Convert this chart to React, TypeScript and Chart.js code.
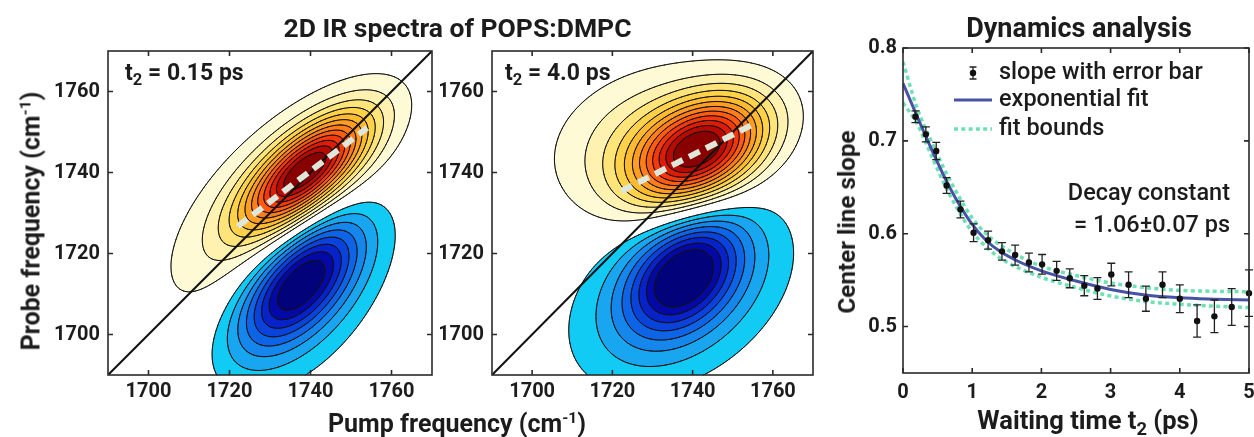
import React, { useEffect, useRef } from "react";
import { Chart, registerables } from "chart.js";

Chart.register(...registerables);

const FONT = "Roboto, 'Noto Sans', 'DejaVu Sans', sans-serif";
const INK = "#1c1c1c";

// ---------------- 2D IR spectra ----------------
const freqRange = [1690, 1770];
const freqTicks = [1700, 1720, 1740, 1760];
const diagonalLine = [1690, 1770];

// contour levels of the normalised 2D IR signal
const contourLevelsPos = [0.08, 0.16, 0.24, 0.32, 0.4, 0.48, 0.56, 0.64, 0.72, 0.8, 0.88, 0.96];
const contourLevelsNeg = [-0.08, -0.16, -0.24, -0.32, -0.4, -0.48, -0.56, -0.64];

// t2 = 0.15 ps : [bleach core (+), excited-state core (-), bleach wing (+), excited-state wing (-)]
const pump015 = [1739, 1737.5, 1732, 1738];
const probe015 = [1740.5, 1713, 1731, 1712];
const amp015 = [0.92, -0.62, 0.22, -0.2];
const diagWidth015 = [13, 13, 24, 20];
const antiWidth015 = [5.5, 6.5, 11.5, 11.5];
const tilt015 = [41, 48, 45, 55];
const centerPump015 = [1722, 1754];
const centerProbe015 = [1726.7, 1751];

// t2 = 4.0 ps
const pump40 = [1742, 1738, 1731, 1737];
const probe40 = [1745.5, 1715, 1747, 1710];
const amp40 = [0.9, -0.58, 0.25, -0.25];
const diagWidth40 = [12, 11, 17, 20];
const antiWidth40 = [7.5, 7.5, 12, 13];
const tilt40 = [30, 45, 15, 35];
const centerPump40 = [1722.2, 1755.5];
const centerProbe40 = [1735.4, 1752.1];

// ---------------- Dynamics ----------------
const timeRange = [0, 5];
const timeTicks = [0, 1, 2, 3, 4, 5];
const slopeRange = [0.45, 0.8];
const slopeTicks = [0.5, 0.6, 0.7, 0.8];

const waitTimes = [0.18, 0.33, 0.48, 0.63, 0.83, 1.02, 1.23, 1.43, 1.62, 1.82, 2.01, 2.22, 2.41, 2.62, 2.81, 3.01, 3.26, 3.51, 3.75, 4.0, 4.25, 4.5, 4.75, 5.0];
const slopes = [0.726, 0.707, 0.689, 0.652, 0.626, 0.601, 0.593, 0.581, 0.577, 0.569, 0.567, 0.56, 0.552, 0.544, 0.541, 0.556, 0.545, 0.53, 0.545, 0.53, 0.506, 0.511, 0.521, 0.536];
const slopeErrors = [0.0063, 0.008, 0.0093, 0.0085, 0.009, 0.0095, 0.0097, 0.0095, 0.0108, 0.01, 0.0106, 0.0102, 0.0102, 0.0108, 0.0117, 0.0122, 0.0138, 0.0135, 0.0138, 0.015, 0.0174, 0.0176, 0.0198, 0.025];

const fitTimes = [0, 0.2, 0.4, 0.6, 0.8, 1.0, 1.2, 1.4, 1.7, 2.0, 2.5, 3.0, 3.5, 4.0, 4.5, 5.0];
const fitValues = [0.762, 0.727, 0.693, 0.661, 0.633, 0.61, 0.593, 0.581, 0.569, 0.56, 0.549, 0.54, 0.534, 0.531, 0.5295, 0.5285];
const fitUpper = [0.785, 0.736, 0.701, 0.669, 0.641, 0.617, 0.6, 0.588, 0.575, 0.565, 0.555, 0.547, 0.542, 0.539, 0.538, 0.5375];
const fitLower = [0.741, 0.719, 0.686, 0.653, 0.625, 0.602, 0.586, 0.574, 0.562, 0.553, 0.542, 0.533, 0.527, 0.524, 0.522, 0.5205];

// ---------------- styles ----------------
const posColors = ["#fffad6", "#fff2b0", "#ffe47a", "#ffd24a", "#ffbb30", "#ff9c22", "#ff7d1a", "#ff5c12", "#f5380c", "#dc1c06", "#b80a02", "#880000"];
const negColors = ["#12cbf4", "#18a6f1", "#1486ec", "#0e64e6", "#0a42dc", "#0622c8", "#0408a6", "#02027a"];

function hexRgb(h: string) {
  return [parseInt(h.slice(1, 3), 16), parseInt(h.slice(3, 5), 16), parseInt(h.slice(5, 7), 16)];
}

function makePeaks(pump: number[], probe: number[], amp: number[], dw: number[], aw: number[], tilt: number[]) {
  return pump.map((_, k) => ({
    x0: pump[k], y0: probe[k], amp: amp[k], sa: dw[k], sc: aw[k],
    c: Math.cos((tilt[k] * Math.PI) / 180), s: Math.sin((tilt[k] * Math.PI) / 180),
  }));
}

function evalField(peaks: any[], x: number, y: number) {
  let f = 0;
  for (const p of peaks) {
    const dx = x - p.x0, dy = y - p.y0;
    const u = dx * p.c + dy * p.s;
    const v = -dx * p.s + dy * p.c;
    f += p.amp * Math.exp(-0.5 * ((u * u) / (p.sa * p.sa) + (v * v) / (p.sc * p.sc)));
  }
  return f;
}

const contourPlugin = {
  id: "contour",
  beforeDatasetsDraw(chart: any, _a: any, opts: any) {
    const { ctx, chartArea: ca, scales } = chart;
    const xs = scales.x, ys = scales.y;
    const L0 = Math.round(ca.left), T0 = Math.round(ca.top);
    const W = Math.round(ca.right) - L0, H = Math.round(ca.bottom) - T0;
    const stride = W + 1;
    const F = new Float32Array((W + 1) * (H + 1));
    const peaks = opts.peaks;
    for (let j = 0; j <= H; j++) {
      const py = ys.getValueForPixel(T0 + j);
      for (let i = 0; i <= W; i++) {
        const px = xs.getValueForPixel(L0 + i);
        F[j * stride + i] = evalField(peaks, px, py);
      }
    }
    const pc = posColors.map(hexRgb), nc = negColors.map(hexRgb);
    const off = document.createElement("canvas");
    off.width = W; off.height = H;
    const octx = off.getContext("2d")!;
    const img = octx.createImageData(W, H);
    for (let j = 0; j < H; j++) {
      for (let i = 0; i < W; i++) {
        const v = (F[j * stride + i] + F[j * stride + i + 1] + F[(j + 1) * stride + i] + F[(j + 1) * stride + i + 1]) / 4;
        let col = [255, 255, 255];
        if (v >= contourLevelsPos[0]) {
          let k = 0;
          while (k + 1 < contourLevelsPos.length && v >= contourLevelsPos[k + 1]) k++;
          col = pc[k];
        } else if (v <= contourLevelsNeg[0]) {
          let k = 0;
          while (k + 1 < contourLevelsNeg.length && v <= contourLevelsNeg[k + 1]) k++;
          col = nc[k];
        }
        const o = (j * W + i) * 4;
        img.data[o] = col[0]; img.data[o + 1] = col[1]; img.data[o + 2] = col[2]; img.data[o + 3] = 255;
      }
    }
    octx.putImageData(img, 0, 0);
    ctx.save();
    ctx.drawImage(off, L0, T0);
    // contour lines (marching squares)
    const step = 2;
    ctx.beginPath();
    const seg = (p: number[], q: number[]) => {
      ctx.moveTo(L0 + p[0], T0 + p[1]);
      ctx.lineTo(L0 + q[0], T0 + q[1]);
    };
    const levels = [...contourLevelsNeg, ...contourLevelsPos];
    for (const L of levels) {
      for (let j = 0; j + step <= H; j += step) {
        for (let i = 0; i + step <= W; i += step) {
          const a = F[j * stride + i], b = F[j * stride + i + step];
          const c = F[(j + step) * stride + i + step], d = F[(j + step) * stride + i];
          const ia = a > L, ib = b > L, ic = c > L, id = d > L;
          if (ia === ib && ib === ic && ic === id) continue;
          const e: any[] = [null, null, null, null];
          if (ia !== ib) e[0] = [i + (step * (L - a)) / (b - a), j];
          if (ib !== ic) e[1] = [i + step, j + (step * (L - b)) / (c - b)];
          if (id !== ic) e[2] = [i + (step * (L - d)) / (c - d), j + step];
          if (ia !== id) e[3] = [i, j + (step * (L - a)) / (d - a)];
          const pr = e.filter(Boolean);
          if (pr.length === 2) seg(pr[0], pr[1]);
          else if (pr.length === 4) {
            const center = (a + b + c + d) / 4 > L;
            if (center === ia) { seg(e[0], e[1]); seg(e[2], e[3]); }
            else { seg(e[0], e[3]); seg(e[1], e[2]); }
          }
        }
      }
    }
    ctx.strokeStyle = "#111";
    ctx.lineWidth = 1;
    ctx.lineCap = "round";
    ctx.stroke();
    ctx.restore();
  },
};

const framePlugin = {
  id: "frame",
  afterDraw(chart: any) {
    const { ctx, chartArea: ca, scales } = chart;
    const xs = scales.x, ys = scales.y;
    ctx.save();
    ctx.strokeStyle = "#2a2a2a";
    ctx.lineWidth = 1.6;
    ctx.strokeRect(ca.left, ca.top, ca.right - ca.left, ca.bottom - ca.top);
    ctx.beginPath();
    const len = 5;
    xs.ticks.forEach((t: any) => {
      const p = xs.getPixelForValue(t.value);
      ctx.moveTo(p, ca.bottom); ctx.lineTo(p, ca.bottom - len);
      ctx.moveTo(p, ca.top); ctx.lineTo(p, ca.top + len);
    });
    ys.ticks.forEach((t: any) => {
      const p = ys.getPixelForValue(t.value);
      ctx.moveTo(ca.left, p); ctx.lineTo(ca.left + len, p);
      ctx.moveTo(ca.right, p); ctx.lineTo(ca.right - len, p);
    });
    ctx.stroke();
    ctx.restore();
  },
};

const tickFont = { family: FONT, size: 20, weight: "bold" as const };

function spectrumConfig(peaks: any[], clPump: number[], clProbe: number[], yWidth: number, padRight: number): any {
  return {
    type: "scatter",
    data: {
      datasets: [
        {
          data: clPump.map((p, i) => ({ x: p, y: clProbe[i] })),
          showLine: true, borderColor: "#dfe7da", borderWidth: 6, borderDash: [12, 7],
          pointRadius: 0, order: 1,
        },
        {
          data: diagonalLine.map((v) => ({ x: v, y: v })),
          showLine: true, borderColor: "#111", borderWidth: 2, pointRadius: 0, order: 2,
        },
      ],
    },
    options: {
      responsive: false, animation: false, devicePixelRatio: 1, events: [],
      layout: { padding: { left: 0, right: padRight, top: 51, bottom: 20 } },
      plugins: { legend: { display: false }, tooltip: { enabled: false }, contour: { peaks } },
      scales: {
        x: {
          type: "linear", min: freqRange[0], max: freqRange[1],
          grid: { display: false, drawTicks: false }, border: { display: false },
          ticks: { font: tickFont, color: INK, padding: 5, maxRotation: 0, autoSkip: false, callback: (v: any) => String(v) },
          afterBuildTicks: (s: any) => { s.ticks = freqTicks.map((v) => ({ value: v })); },
          afterFit: (s: any) => { s.height = 42; s.paddingLeft = 0; s.paddingRight = 0; },
        },
        y: {
          type: "linear", min: freqRange[0], max: freqRange[1],
          grid: { display: false, drawTicks: false }, border: { display: false },
          ticks: { font: tickFont, color: INK, padding: 8, autoSkip: false, callback: (v: any) => String(v) },
          afterBuildTicks: (s: any) => { s.ticks = freqTicks.map((v) => ({ value: v })); },
          afterFit: (s: any) => { s.width = yWidth; s.paddingTop = 0; s.paddingBottom = 0; },
        },
      },
    },
    plugins: [contourPlugin, framePlugin],
  };
}

const errorBarPlugin = {
  id: "errbars",
  beforeDatasetDraw(chart: any, args: any) {
    if (args.index !== 0) return;
    const { ctx, scales } = chart;
    const xs = scales.x, ys = scales.y;
    ctx.save();
    ctx.strokeStyle = "#222";
    ctx.lineWidth = 1.3;
    ctx.beginPath();
    waitTimes.forEach((t, i) => {
      const px = xs.getPixelForValue(t);
      const top = ys.getPixelForValue(slopes[i] + slopeErrors[i]);
      const bot = ys.getPixelForValue(slopes[i] - slopeErrors[i]);
      ctx.moveTo(px, top); ctx.lineTo(px, bot);
      ctx.moveTo(px - 4, top); ctx.lineTo(px + 4, top);
      ctx.moveTo(px - 4, bot); ctx.lineTo(px + 4, bot);
    });
    ctx.stroke();
    ctx.restore();
  },
};

const legendPlugin = {
  id: "dynlegend",
  afterDatasetsDraw(chart: any) {
    const { ctx, chartArea: ca } = chart;
    ctx.save();
    ctx.font = `500 23.5px ${FONT}`;
    ctx.fillStyle = INK;
    ctx.textBaseline = "middle";
    const tx = ca.left + 96;
    // error bar icon
    const ix = ca.left + 70, iy = ca.top + 25;
    ctx.strokeStyle = "#222"; ctx.lineWidth = 1.3;
    ctx.beginPath();
    ctx.moveTo(ix, iy - 6); ctx.lineTo(ix, iy + 6);
    ctx.moveTo(ix - 3.5, iy - 6); ctx.lineTo(ix + 3.5, iy - 6);
    ctx.moveTo(ix - 3.5, iy + 6); ctx.lineTo(ix + 3.5, iy + 6);
    ctx.stroke();
    ctx.beginPath(); ctx.arc(ix, iy, 3.2, 0, Math.PI * 2); ctx.fillStyle = "#111"; ctx.fill();
    ctx.fillStyle = INK;
    ctx.fillText("slope with error bar", tx, iy);
    // fit line
    const ly = ca.top + 52;
    ctx.strokeStyle = "#4652a6"; ctx.lineWidth = 3;
    ctx.beginPath(); ctx.moveTo(ca.left + 51, ly); ctx.lineTo(ca.left + 89, ly); ctx.stroke();
    ctx.fillText("exponential fit", tx, ly);
    // bounds
    const by = ca.top + 81;
    ctx.strokeStyle = "#6ee0b4"; ctx.lineWidth = 3.5; ctx.setLineDash([4, 3.3]);
    ctx.beginPath(); ctx.moveTo(ca.left + 51, by); ctx.lineTo(ca.left + 89, by); ctx.stroke();
    ctx.setLineDash([]);
    ctx.fillText("fit bounds", tx, by);
    // decay constant
    ctx.textAlign = "right";
    ctx.fillText("Decay constant", ca.left + 327, ca.top + 146);
    ctx.fillText("= 1.06\u00b10.07 ps", ca.left + 327, ca.top + 178);
    ctx.restore();
  },
};

function dynamicsConfig(): any {
  return {
    type: "scatter",
    data: {
      datasets: [
        {
          data: waitTimes.map((t, i) => ({ x: t, y: slopes[i] })),
          pointRadius: 3.2, pointBackgroundColor: "#111", pointBorderWidth: 0, showLine: false, order: 0, clip: 8,
        },
        {
          data: fitTimes.map((t, i) => ({ x: t, y: fitValues[i] })),
          showLine: true, borderColor: "#4652a6", borderWidth: 3, pointRadius: 0,
          cubicInterpolationMode: "monotone", order: 1,
        },
        {
          data: fitTimes.map((t, i) => ({ x: t, y: fitUpper[i] })),
          showLine: true, borderColor: "#6ee0b4", borderWidth: 3.5, borderDash: [4, 3.3], pointRadius: 0,
          cubicInterpolationMode: "monotone", order: 2,
        },
        {
          data: fitTimes.map((t, i) => ({ x: t, y: fitLower[i] })),
          showLine: true, borderColor: "#6ee0b4", borderWidth: 3.5, borderDash: [4, 3.3], pointRadius: 0,
          cubicInterpolationMode: "monotone", order: 2,
        },
      ],
    },
    options: {
      responsive: false, animation: false, devicePixelRatio: 1, events: [],
      layout: { padding: { left: 0, right: 5, top: 48, bottom: 22 } },
      plugins: { legend: { display: false }, tooltip: { enabled: false } },
      scales: {
        x: {
          type: "linear", min: timeRange[0], max: timeRange[1],
          grid: { display: false, drawTicks: false }, border: { display: false },
          ticks: { font: tickFont, color: INK, padding: 8, maxRotation: 0, autoSkip: false },
          afterBuildTicks: (s: any) => { s.ticks = timeTicks.map((v) => ({ value: v })); },
          afterFit: (s: any) => { s.height = 42; s.paddingLeft = 0; s.paddingRight = 0; },
        },
        y: {
          type: "linear", min: slopeRange[0], max: slopeRange[1],
          grid: { display: false, drawTicks: false }, border: { display: false },
          ticks: { font: tickFont, color: INK, padding: 6, autoSkip: false, callback: (v: any) => Number(v).toFixed(1) },
          afterBuildTicks: (s: any) => { s.ticks = slopeTicks.map((v) => ({ value: v })); },
          afterFit: (s: any) => { s.width = 63; s.paddingTop = 0; s.paddingBottom = 0; },
        },
      },
    },
    plugins: [errorBarPlugin, legendPlugin, framePlugin],
  };
}

function ChartBox({ left, width, make }: { left: number; width: number; make: () => any }) {
  const ref = useRef<HTMLCanvasElement>(null);
  useEffect(() => {
    const chart = new Chart(ref.current!, make());
    return () => chart.destroy();
  }, []);
  return (
    <canvas ref={ref} width={width} height={437}
      style={{ position: "absolute", left, top: 0, width, height: 437, display: "block" }} />
  );
}

function Txt({ x, y, size, weight = 700, rotate = false, anchor = "center", children }: any) {
  const tx = anchor === "left" ? "0" : "-50%";
  return (
    <div style={{
      position: "absolute", left: x, top: y, whiteSpace: "nowrap", lineHeight: 1,
      transform: `translate(${tx},-50%)${rotate ? " rotate(-90deg)" : ""}`,
      fontSize: size, fontWeight: weight, color: INK, fontFamily: FONT,
    }}>{children}</div>
  );
}

export default function App() {
  const peaks015 = makePeaks(pump015, probe015, amp015, diagWidth015, antiWidth015, tilt015);
  const peaks40 = makePeaks(pump40, probe40, amp40, diagWidth40, antiWidth40, tilt40);
  const sup = { fontSize: "0.62em", verticalAlign: "0.55em" };
  const sub = { fontSize: "0.72em", verticalAlign: "-0.3em" };
  return (
    <div style={{ position: "absolute", left: 0, top: 0, width: 1254, height: 437, background: "#fff", overflow: "hidden" }}>
      <ChartBox left={0} width={440} make={() => spectrumConfig(peaks015, centerPump015, centerProbe015, 108, 8)} />
      <ChartBox left={440} width={400} make={() => spectrumConfig(peaks40, centerPump40, centerProbe40, 52, 27)} />
      <ChartBox left={840} width={414} make={dynamicsConfig} />
      <Txt x={457.5} y={28} size={26.5}>2D IR spectra of POPS:DMPC</Txt>
      <Txt x={1079} y={28} size={27}>Dynamics analysis</Txt>
      <Txt x={457} y={423} size={25}>Pump frequency (cm<span style={sup}>-1</span>)</Txt>
      <Txt x={1088} y={423} size={25.5}>Waiting time t<span style={sub}>2</span> (ps)</Txt>
      <Txt x={31} y={221} size={25} rotate>Probe frequency (cm<span style={sup}>-1</span>)</Txt>
      <Txt x={847} y={222} size={24.2} rotate>Center line slope</Txt>
      <Txt x={125} y={75} size={23} anchor="left">t<span style={sub}>2</span> = 0.15 ps</Txt>
      <Txt x={505} y={75} size={23} anchor="left">t<span style={sub}>2</span> = 4.0 ps</Txt>
    </div>
  );
}
